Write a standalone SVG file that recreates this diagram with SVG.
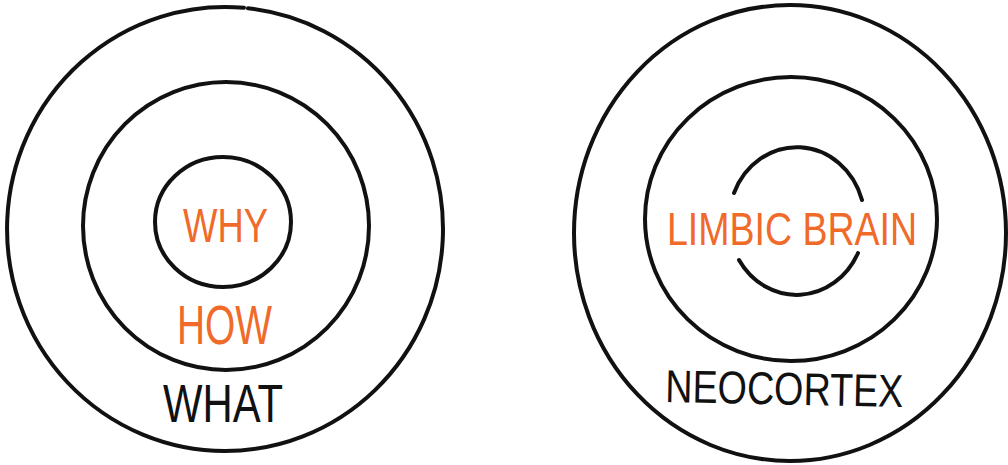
<svg xmlns="http://www.w3.org/2000/svg" width="1008" height="465" viewBox="0 0 1008 465">
<style>
.ring{fill:none;stroke:#111;stroke-width:4;stroke-linecap:round}
.lbl{font-family:"Liberation Sans",Arial,sans-serif;font-weight:normal}
.orange{fill:#F06A2A}
.black{fill:#111}
</style>
<rect width="1008" height="465" fill="#ffffff"/>
<g id="what">
<path class="ring" d="M 248 8.24 A 218 222 0 0 1 225 451 A 218 222 0 1 1 244 7.84"/>
<text class="lbl black" x="163" y="422" font-size="54" textLength="120" lengthAdjust="spacingAndGlyphs">WHAT</text>
</g>
<g id="how">
<ellipse class="ring" cx="226" cy="226" rx="143" ry="144"/>
<text class="lbl orange" x="177" y="344" font-size="56" textLength="95" lengthAdjust="spacingAndGlyphs">HOW</text>
</g>
<g id="why">
<ellipse class="ring" cx="223" cy="222" rx="68" ry="65"/>
<text class="lbl orange" x="183" y="242" font-size="48" textLength="85" lengthAdjust="spacingAndGlyphs">WHY</text>
</g>
<g id="neocortex">
<ellipse class="ring" cx="790" cy="233" rx="216" ry="228"/>
<ellipse class="ring" cx="791" cy="219" rx="146" ry="142"/>
<text class="lbl black" x="665" y="402" font-size="46" textLength="238" lengthAdjust="spacingAndGlyphs" transform="rotate(1.2 665 402)">NEOCORTEX</text>
</g>
<g id="limbic-brain">
<path class="ring" d="M 734 193 A 68 74 0 0 1 862 200"/>
<path class="ring" d="M 858 253 A 68 74 0 0 1 739 260"/>
<text class="lbl orange" x="667" y="245" font-size="46" textLength="250" lengthAdjust="spacingAndGlyphs">LIMBIC BRAIN</text>
</g>
</svg>
